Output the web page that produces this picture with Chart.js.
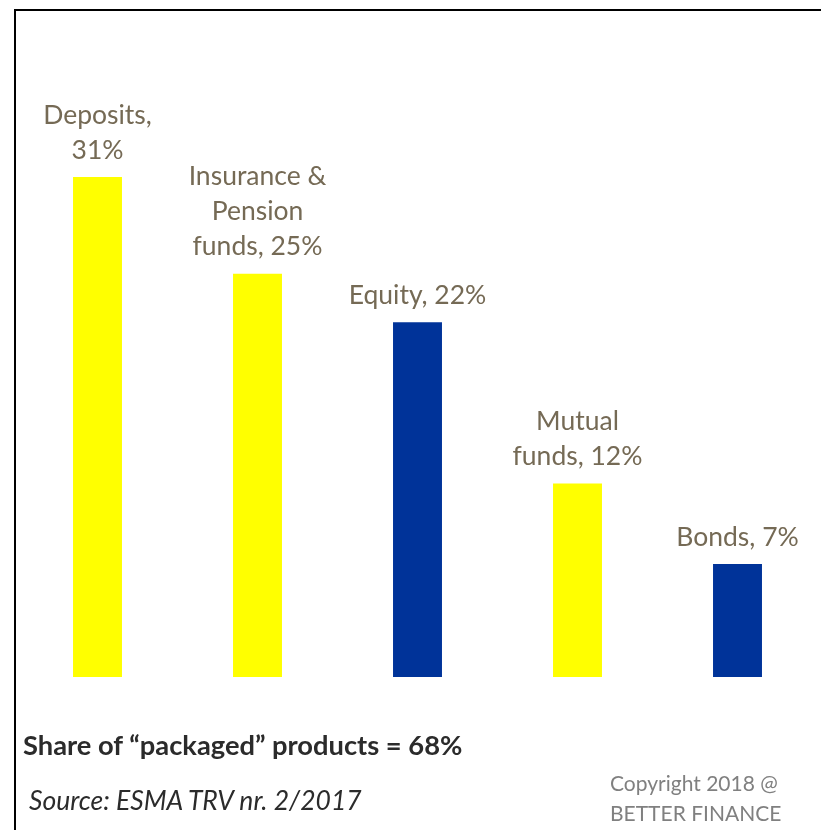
<!DOCTYPE html>
<html>
<head>
<meta charset="utf-8">
<script src="https://cdn.jsdelivr.net/npm/chart.js@4/dist/chart.umd.min.js"></script>
<style>
  html, body { margin: 0; padding: 0; background: #fff; }
  #wrap { position: relative; width: 821px; height: 830px; overflow: hidden; }
  #frame { position: absolute; left: 14px; top: 9px; width: 820px; height: 840px; border-left: 2px solid #000; border-top: 2px solid #000; box-sizing: border-box; }
  canvas { position: absolute; left: 0; top: 0; }
  .txt { position: absolute; font-family: Lato, "Open Sans", sans-serif; white-space: nowrap; line-height: 30px; }
  #share { left: 23px; top: 730px; font-size: 27.3px; font-weight: bold; color: #2b2b2b; }
  #source { left: 29px; top: 785px; font-size: 26.5px; font-style: italic; color: #2b2b2b; }
  #copy { left: 610px; top: 768px; font-size: 21px; color: #808080; }
</style>
</head>
<body>
<div id="wrap">
  <div id="frame"></div>
  <canvas id="c" width="821" height="830"></canvas>
  <div class="txt" id="share">Share of “packaged” products = 68%</div>
  <div class="txt" id="source">Source: ESMA TRV nr. 2/2017</div>
  <div class="txt" id="copy">Copyright 2018 @<br>BETTER FINANCE</div>
</div>
<script>
const categories = ["Deposits", "Insurance & Pension funds", "Equity", "Mutual funds", "Bonds"];
const values = [31, 25, 22, 12, 7];
const barLabels = [
  ["Deposits,", "31%"],
  ["Insurance &", "Pension", "funds, 25%"],
  ["Equity, 22%"],
  ["Mutual", "funds, 12%"],
  ["Bonds, 7%"]
];
const barColors = ["#FFFF00", "#FFFF00", "#003399", "#FFFF00", "#003399"];

const labelPlugin = {
  id: "barLabels",
  afterDatasetsDraw(chart) {
    const ctx = chart.ctx;
    const meta = chart.getDatasetMeta(0);
    ctx.save();
    ctx.font = "26.5px Lato, 'Open Sans', sans-serif";
    ctx.fillStyle = "#756A55";
    ctx.textAlign = "center";
    ctx.textBaseline = "middle";
    const lh = 35;
    meta.data.forEach((bar, i) => {
      const lines = barLabels[i];
      const lastY = bar.y - 27;
      lines.forEach((line, j) => {
        const y = lastY - (lines.length - 1 - j) * lh;
        ctx.fillText(line, bar.x, y);
      });
    });
    ctx.restore();
  }
};

new Chart(document.getElementById("c"), {
  type: "bar",
  data: {
    labels: categories,
    datasets: [{
      data: values,
      backgroundColor: barColors,
      borderWidth: 0,
      categoryPercentage: 1,
      barPercentage: 0.306
    }]
  },
  options: {
    responsive: false,
    animation: false,
    layout: { padding: { left: 17.5, right: 3.5, top: 31.8, bottom: 153 } },
    plugins: { legend: { display: false }, tooltip: { enabled: false } },
    scales: {
      x: { display: false },
      y: { display: false, min: 0, max: 40 }
    }
  },
  plugins: [labelPlugin]
});
</script>
</body>
</html>
